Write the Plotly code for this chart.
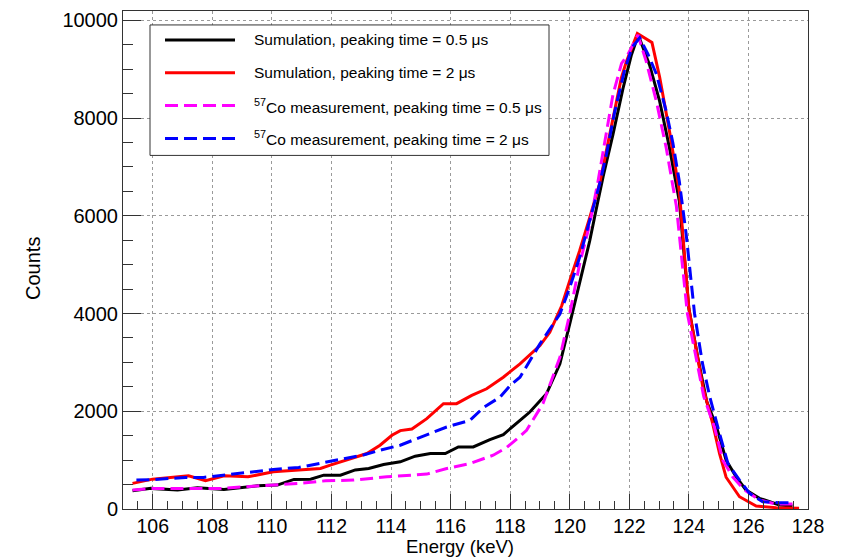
import plotly.graph_objects as go

# ---------------- data ----------------
sim05_E = [105.32, 105.94, 106.83, 107.5, 108.39, 109.51, 110.18, 110.74, 111.3, 111.74,
           112.3, 112.8, 113.25, 113.75, 114.31, 114.81, 115.32, 115.82, 116.26, 116.76,
           117.32, 117.77, 118.33, 118.66, 119.22, 119.67, 120.0, 120.33, 120.67, 120.9,
           121.12, 121.45, 121.79, 122.07, 122.3, 122.68, 123.02, 123.35, 123.68, 124.0,
           124.3, 124.6, 124.92, 125.25, 125.59, 125.92, 126.37, 127.04, 127.48]
sim05_C = [373, 422, 387, 435, 401, 475, 489, 605, 611, 693,
           693, 800, 829, 911, 965, 1080, 1135, 1135, 1270, 1270,
           1421, 1523, 1815, 1984, 2358, 2970, 3786, 4601, 5484, 6163,
           6800, 7659, 8610, 9290, 9700, 9086, 8339, 7387, 6300, 4100,
           3100, 2200, 1700, 999, 659, 387, 218, 82, 61]

sim2_E = [105.32, 105.99, 107.2, 107.77, 108.4, 109.2, 110.05, 110.9, 111.63, 111.96,
          112.74, 113.19, 113.63, 114.03, 114.31, 114.7, 115.2, 115.76, 116.2, 116.71,
          117.21, 117.77, 118.33, 119.0, 119.33, 119.73, 120.0, 120.33, 120.67, 121.0,
          121.34, 121.73, 121.9, 122.27, 122.76, 123.02, 123.35, 123.68, 124.0, 124.47,
          124.8, 125.03, 125.25, 125.7, 126.26, 126.93, 127.7]
sim2_C = [524, 611, 679, 577, 679, 659, 761, 795, 829, 897,
          1054, 1135, 1305, 1509, 1604, 1638, 1849, 2155, 2155, 2324,
          2460, 2697, 2970, 3344, 3615, 4159, 4669, 5280, 5960, 6650,
          7659, 8815, 9150, 9731, 9548, 8835, 7727, 6500, 4100, 2500,
          1747, 1135, 650, 251, 61, 27, 14]

meas05_E = [105.32, 106.0, 107.6, 108.3, 109.1, 110.05, 110.9, 111.8, 112.74, 113.86,
            115.2, 115.87, 116.65, 117.43, 117.88, 118.33, 118.55, 119.1, 119.67, 120.0,
            120.33, 120.67, 120.95, 121.23, 121.45, 121.74, 121.95, 122.29, 122.57, 122.91,
            123.24, 123.58, 123.95, 124.5, 124.86, 125.14, 125.47, 125.87, 126.37, 126.93,
            127.48]
meas05_C = [387, 422, 422, 422, 456, 489, 524, 577, 591, 659,
            714, 829, 931, 1101, 1258, 1488, 1611, 2155, 3105, 3990,
            5009, 5824, 6707, 7700, 8475, 9120, 9300, 9698, 9154, 8339,
            7387, 6200, 4000, 2300, 1678, 999, 659, 387, 183, 102,
            102]

meas2_E = [105.45, 106.0, 107.1, 107.7, 108.7, 110.05, 110.9, 112.05, 113.1, 113.63,
           114.31, 114.87, 115.42, 115.87, 116.65, 117.1, 117.66, 118.0, 118.33, 119.0,
           119.67, 120.0, 120.33, 120.67, 121.0, 121.23, 121.5, 121.85, 122.1, 122.35,
           122.63, 122.91, 123.24, 123.46, 123.68, 123.91, 124.19, 124.45, 124.7, 124.97,
           125.31, 125.7, 126.04, 126.48, 127.04, 127.48]
meas2_C = [591, 600, 646, 646, 714, 809, 850, 985, 1110, 1203,
           1305, 1441, 1576, 1678, 1815, 2073, 2290, 2528, 2697, 3378,
           3990, 4532, 5144, 5892, 6640, 7252, 8100, 9000, 9450, 9643,
           9300, 8900, 8135, 7500, 6700, 5620, 4000, 3000, 2300, 1678,
           931, 591, 320, 149, 129, 129]

labels = ["Sumulation, peaking time = 0.5 \u03bcs",
          "Sumulation, peaking time = 2 \u03bcs",
          "<sup>57</sup>Co measurement, peaking time = 0.5 \u03bcs",
          "<sup>57</sup>Co measurement, peaking time = 2 \u03bcs"]
colors = ["#000000", "#ff0000", "#ff00ff", "#0000ff"]
dashes = ["solid", "solid", "13px,6px", "13px,6px"]

x_range = [105, 128]
y_range = [0, 10190]

# ---------------- figure ----------------
FONT = "Liberation Sans, Arial, Helvetica, sans-serif"
fig = go.Figure()
series = [(sim05_E, sim05_C), (sim2_E, sim2_C), (meas05_E, meas05_C), (meas2_E, meas2_C)]
for (ex, cy), lab, col, dsh in zip(series, labels, colors, dashes):
    fig.add_trace(go.Scatter(x=ex, y=cy, mode="lines", name=lab,
                             line=dict(color=col, width=3, dash=dsh),
                             showlegend=False))

W, H = 848, 557
L, R, T, B = 123, 40, 9, 48
pw, ph = W - L - R, H - T - B

def px(xp):
    return (xp - L) / pw

def py(yp):
    return (H - B - yp) / ph

axis_common = dict(showline=True, linecolor="#333333", linewidth=1, mirror=True,
                   showgrid=True, gridcolor="#9a9a9a", griddash="dot", gridwidth=1,
                   zeroline=False, ticks="inside", tickcolor="#333333")

fig.update_xaxes(range=x_range, dtick=2, tick0=0, ticklen=15, tickformat="d",
                 tickfont=dict(family=FONT, size=19.5, color="#000000"),
                 minor=dict(dtick=0.5, tick0=0, ticks="inside", ticklen=8,
                            tickcolor="#333333", showgrid=False),
                 **axis_common)
fig.update_yaxes(range=y_range, dtick=2000, tick0=0, ticklen=18, tickformat="d",
                 tickfont=dict(family=FONT, size=20, color="#000000"),
                 minor=dict(dtick=500, tick0=0, ticks="inside", ticklen=10,
                            tickcolor="#333333", showgrid=False),
                 **axis_common)

# legend box drawn manually
shapes = [dict(type="rect", xref="paper", yref="paper",
               x0=px(150), x1=px(549), y0=py(154), y1=py(23),
               line=dict(color="#333333", width=1), fillcolor="white", layer="above")]
annotations = []
row_y = [38, 71, 104, 137]
for ry, lab, col, dsh in zip(row_y, labels, colors, dashes):
    shapes.append(dict(type="line", xref="paper", yref="paper",
                       x0=px(165), x1=px(235), y0=py(ry), y1=py(ry),
                       line=dict(color=col, width=3, dash=dsh), layer="above"))
    annotations.append(dict(xref="paper", yref="paper", x=px(252), y=py(ry),
                            xanchor="left", yanchor="middle", showarrow=False,
                            text=lab, font=dict(family=FONT, size=15.5, color="#000000")))

annotations.append(dict(xref="paper", yref="paper", x=px(460), y=py(547),
                        xanchor="center", yanchor="middle", showarrow=False,
                        text="Energy (keV)", font=dict(family=FONT, size=18.5, color="#000000")))
annotations.append(dict(xref="paper", yref="paper", x=px(33), y=py(268),
                        xanchor="center", yanchor="middle", showarrow=False, textangle=-90,
                        text="Counts", font=dict(family=FONT, size=20, color="#000000")))

fig.update_layout(width=W, height=H, margin=dict(l=L, r=R, t=T, b=B),
                  paper_bgcolor="white", plot_bgcolor="white",
                  shapes=shapes, annotations=annotations, showlegend=False,
                  font=dict(family=FONT))

fig.write_html("out.html")
